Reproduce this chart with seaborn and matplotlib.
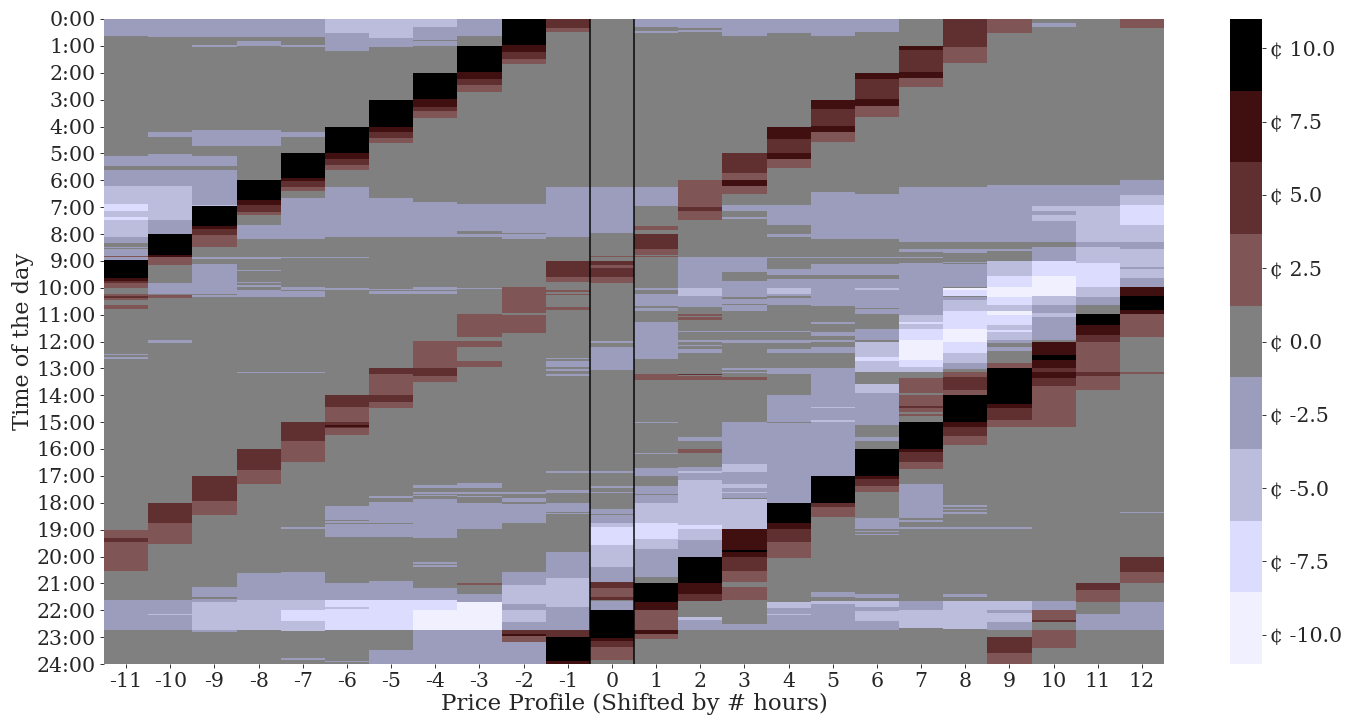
import numpy as np
import pandas as pd
import matplotlib
matplotlib.use("Agg")
import matplotlib.pyplot as plt
from matplotlib.colors import ListedColormap
import seaborn as sns

# price bands, low to high (cents)
band_colors = ["#f0f0ff", "#dcdcff", "#bcbcdc", "#9c9cbc", "#808080",
               "#805555", "#603030", "#401010", "#000000"]
hour_labels = [f"{h}:00" for h in range(25)]
shift_labels = [-11, -10, -9, -8, -7, -6, -5, -4, -3, -2, -1, 0,
                1, 2, 3, 4, 5, 6, 7, 8, 9, 10, 11, 12]
cbar_values = [-10, -7.5, -5, -2.5, 0, 2.5, 5, 7.5, 10]

# each column: (from hour, to hour, price in cents); anything else is 0
col_m11 = [(0,.63,-2.5),(5.09,5.47,-2.5),(5.62,6.22,-2.5),(6.22,6.89,-5),(6.89,7.15,-7.5),(7.15,7.39,-5),(7.39,7.46,-7.5),
           (7.46,8.10,-5),(8.10,8.31,-2.5),(8.49,8.54,-2.5),(8.55,8.81,-2.5),(8.81,8.86,2.5),(8.86,8.98,-2.5),(8.98,9.65,10),
           (9.65,9.74,7.5),(9.74,9.84,5),(9.84,10.01,2.5),(10.25,10.31,2.5),(10.31,10.39,5),(10.39,10.46,2.5),(10.65,10.79,2.5),
           (12.47,12.52,-2.5),(12.57,12.67,-2.5),(19.0,19.3,2.5),(19.3,19.47,5),(19.47,20.54,2.5),(21.62,22.72,-2.5)]
col_m10 = [(0,.69,-2.5),(4.21,4.39,-2.5),(5.04,5.47,-2.5),(5.62,6.22,-2.5),(6.22,7.48,-5),(7.48,7.98,-2.5),(7.98,8.78,10),
           (8.78,8.87,7.5),(8.87,9.16,2.5),(9.84,10.21,-2.5),(10.27,10.36,2.5),(11.95,12.05,-2.5),(18.0,18.75,5),(18.75,19.54,2.5),
           (21.62,22.15,-2.5),(22.15,22.19,-5),(22.19,22.72,-2.5)]
col_m9 = [(0,.69,-2.5),(.97,1.03,-2.5),(4.11,4.73,-2.5),(5.1,5.47,-2.5),(5.62,6.92,-2.5),(6.92,6.96,-5),(6.96,7.7,10),(7.7,7.8,7.5),
          (7.8,8.04,5),(8.04,8.49,2.5),(8.85,8.92,-2.5),(9.13,10.21,-2.5),(10.27,10.33,-2.5),(17.01,17.94,5),(17.94,18.46,2.5),
          (21.12,21.5,-2.5),(21.57,21.69,-2.5),(21.69,22.72,-5),(22.72,22.81,-2.5)]
col_m8 = [(0,.69,-2.5),(.82,1.0,-2.5),(4.11,4.73,-2.5),(5.99,6.74,10),(6.74,6.92,7.5),(6.92,7.17,5),(7.17,7.3,2.5),(7.67,8.2,-2.5),
          (8.85,8.91,-2.5),(9.34,9.38,-2.5),(9.78,9.84,-2.5),(9.9,9.99,-2.5),(10.09,10.21,-2.5),(10.24,10.33,-2.5),(13.13,13.18,-2.5),
          (16.0,16.79,5),(16.79,17.32,2.5),(20.61,21.62,-2.5),(21.62,22.72,-5)]
col_m7 = [(0,.69,-2.5),(.99,1.05,-2.5),(4.21,4.39,-2.5),(5.0,5.9,10),(5.9,6.02,7.5),(6.02,6.24,5),(6.24,6.4,2.5),(6.65,8.2,-2.5),
          (8.85,8.9,-2.5),(9.99,10.06,-2.5),(10.14,10.21,-2.5),(10.24,10.33,-2.5),(13.13,13.18,-2.5),(15.0,15.7,5),(15.7,16.48,2.5),
          (18.92,18.97,-2.5),(20.58,21.62,-2.5),(21.62,22.0,-5),(22.0,22.4,-7.5),(22.4,22.77,-5),(23.76,23.86,-2.5)]
col_m6 = [(0,.51,-5),(.51,1.18,-2.5),(4.0,5.0,10),(5.0,5.22,7.5),(5.22,5.43,5),(5.43,5.62,2.5),(6.27,8.1,-2.5),(8.85,8.9,-2.5),
          (10.01,10.09,-2.5),(14.0,14.43,5),(14.43,15.0,2.5),(15.0,15.1,5),(15.1,15.17,7.5),(15.17,15.2,5),(15.2,15.48,2.5),
          (18.12,18.65,-2.5),(18.69,18.75,-2.5),(18.8,19.27,-2.5),(21.0,21.62,-2.5),(21.62,21.87,-7.5),(21.87,21.97,-5),
          (21.97,22.72,-7.5),(23.88,23.93,-2.5)]
col_m5 = [(0,.71,-5),(.71,1.05,-2.5),(3.0,4.03,10),(4.03,4.22,7.5),(4.22,4.42,5),(4.42,4.6,2.5),(6.65,8.1,-2.5),(10.03,10.07,-2.5),
          (10.12,10.21,-2.5),(13.0,13.22,5),(13.22,14.0,2.5),(14.0,14.24,5),(14.24,14.49,2.5),(17.76,17.81,-2.5),(17.97,18.75,-2.5),
          (18.8,19.27,-2.5),(20.9,21.62,-2.5),(21.62,22.72,-7.5),(23.49,24,-2.5)]
col_m4 = [(0,.29,-5),(.29,.76,-2.5),(.82,1.0,-2.5),(2.0,2.98,10),(2.98,3.26,7.5),(3.26,3.42,5),(3.42,3.67,2.5),(6.8,8.1,-2.5),
          (9.99,10.09,-2.5),(10.12,10.25,-2.5),(11.98,13.0,2.5),(13.0,13.26,5),(13.26,13.5,2.5),(17.35,17.43,-2.5),(17.6,17.66,-2.5),
          (17.72,17.76,-2.5),(17.87,19.31,-2.5),(20.22,20.28,-2.5),(20.32,20.38,-2.5),(21.19,21.62,-2.5),(21.62,22.0,-7.5),
          (22.0,22.72,-10),(22.72,24,-2.5)]
col_m3 = [(0,.63,-2.5),(1.0,1.99,10),(1.99,2.23,7.5),(2.23,2.47,5),(2.47,2.72,2.5),(6.89,7.89,-2.5),(7.98,8.1,-2.5),(10.01,10.05,-2.5),
          (10.98,11.85,2.5),(11.98,12.2,2.5),(12.74,12.8,2.5),(12.82,12.94,2.5),(17.29,17.43,-2.5),(17.6,17.66,-2.5),(17.76,17.8,-2.5),
          (18.0,18.98,-2.5),(21.0,21.07,2.5),(21.4,21.68,-2.5),(21.68,22.72,-10),(22.72,24,-2.5)]
col_m2 = [(0,.97,10),(.97,1.22,7.5),(1.22,1.5,5),(1.5,1.69,2.5),(6.89,7.95,-2.5),(7.98,8.2,-2.5),(9.99,10.93,2.5),(11.02,11.68,2.5),
          (17.6,17.66,-2.5),(17.84,17.97,-2.5),(18.03,18.75,-2.5),(20.58,21.07,-2.5),(21.07,21.75,-5),(21.75,22.0,-2.5),(22.0,22.43,-5),
          (22.43,22.72,-2.5),(22.72,22.89,5),(22.89,22.97,7.5),(22.97,23.19,2.5),(23.19,24,-2.5)]
col_m1 = [(0,.35,5),(.35,.48,2.5),(6.27,8.1,-2.5),(9.0,9.6,5),(9.6,9.79,2.5),(10.09,10.15,2.5),(10.22,10.28,2.5),(10.74,10.83,2.5),
          (12.6,12.65,-2.5),(12.73,12.94,-2.5),(13.04,13.1,-2.5),(13.22,13.29,-2.5),(16.84,16.9,-2.5),(17.53,17.63,-2.5),(18.0,18.34,-2.5),
          (18.39,18.43,-2.5),(19.84,20.78,-2.5),(20.78,21.87,-5),(21.87,22.72,-2.5),(22.72,23.0,5),(23.0,23.9,10),(23.9,24,7.5)]
col_0 = [(6.27,7.95,-2.5),(8.81,8.86,2.5),(9.0,9.16,5),(9.16,9.28,2.5),(9.28,9.59,5),(9.59,9.84,2.5),(11.98,12.05,-2.5),(12.2,13.07,-2.5),
         (16.81,16.88,-2.5),(17.38,17.47,-2.5),(17.6,17.64,-2.5),(18.25,18.43,-2.5),(18.46,18.75,-2.5),(18.75,18.92,-5),(18.92,19.58,-7.5),
         (19.58,20.38,-5),(20.38,20.94,-2.5),(20.94,21.19,5),(21.19,21.5,2.5),(21.5,21.6,5),(21.65,22.0,-2.5),(22.0,23.02,10),(23.02,23.14,7.5),
         (23.14,23.36,5),(23.36,23.83,2.5)]
col_p1 = [(0,.29,-2.5),(.43,.53,-2.5),(6.27,6.96,-2.5),(7.7,7.83,2.5),(8.0,8.56,5),(8.56,8.76,2.5),(8.81,8.85,2.5),(10.01,10.09,-2.5),
          (10.21,10.68,-2.5),(10.77,10.89,-2.5),(11.27,12.67,-2.5),(13.22,13.43,2.5),(15.0,15.03,-2.5),(16.14,16.19,-2.5),(16.71,17.01,-2.5),
          (17.36,17.68,-2.5),(17.72,18.0,-2.5),(18.0,18.75,-5),(18.75,19.33,-7.5),(19.33,19.73,-5),(19.73,20.76,-2.5),(21.0,21.69,10),
          (21.69,22.0,7.5),(22.0,22.72,2.5),(22.72,22.87,7.5),(22.87,23.07,2.5)]
col_p2 = [(0,.31,-2.5),(.41,.47,-2.5),(5.99,6.99,2.5),(6.99,7.15,5),(7.15,7.48,2.5),(8.87,10.0,-2.5),(10.0,10.31,-5),(10.31,10.74,-2.5),
          (10.98,11.04,2.5),(11.1,11.18,2.5),(11.6,11.64,-2.5),(11.95,12.0,-2.5),(12.13,12.19,-2.5),(12.28,12.42,-2.5),(13.2,13.25,5),
          (13.29,13.43,2.5),(15.57,15.71,-2.5),(15.98,16.13,2.5),(16.66,16.81,-2.5),(16.81,16.9,-5),(16.9,17.16,-2.5),(17.16,18.83,-5),
          (18.83,18.99,-7.5),(18.99,19.39,-5),(19.39,20.01,-2.5),(20.01,21.0,10),(21.0,21.4,7.5),(21.4,21.65,5),(22.27,22.37,-5),(22.37,22.72,-2.5)]
col_p3 = [(0,.63,-2.5),(5.0,5.74,5),(5.74,5.99,2.5),(5.99,6.2,7.5),(6.2,6.51,2.5),(6.92,7.15,-2.5),(7.38,7.44,-2.5),(8.85,9.4,-2.5),
          (9.74,10.34,-2.5),(10.4,10.61,-2.5),(10.65,10.87,-2.5),(11.6,11.63,-2.5),(11.95,12.05,-2.5),(13.0,13.06,-2.5),(13.13,13.19,-2.5),
          (13.31,13.43,2.5),(15.0,16.56,-2.5),(16.56,16.85,-5),(16.85,17.31,-2.5),(17.31,17.43,-5),(17.43,17.6,-2.5),(17.6,17.65,-5),
          (17.65,17.81,-2.5),(17.85,18.03,-5),(18.03,18.96,-5),(18.99,19.76,7.5),(19.76,19.82,10),(19.82,20.01,7.5),(20.01,20.55,5),
          (20.55,20.97,2.5),(21.15,21.62,2.5),(22.5,22.72,-2.5)]
col_p4 = [(0,.53,-2.5),(4.0,4.48,7.5),(4.48,4.98,5),(4.98,5.21,7.5),(5.21,5.53,2.5),(6.92,7.67,-2.5),(8.0,8.1,-2.5),(8.85,8.89,-2.5),
          (9.32,9.53,-2.5),(9.69,10.02,-2.5),(10.02,10.21,-5),(10.21,10.31,-2.5),(10.37,10.65,-2.5),(11.6,11.64,-2.5),(11.95,12.05,-2.5),
          (12.28,12.42,-2.5),(13.0,13.22,-2.5),(13.99,15.0,-2.5),(15.03,18.0,-2.5),(18.0,18.77,10),(18.77,18.99,7.5),(18.99,19.46,5),
          (19.46,20.05,2.5),(21.69,21.94,-5),(21.94,22.15,-2.5),(22.15,22.19,-5),(22.19,22.72,-2.5)]
col_p5 = [(0,.63,-2.5),(3.0,3.33,7.5),(3.33,3.98,5),(3.98,4.22,7.5),(4.22,4.57,2.5),(6.44,8.2,-2.5),(8.85,8.89,-2.5),(9.13,9.53,-2.5),
          (9.69,10.68,-2.5),(11.29,11.35,-2.5),(11.64,11.8,-2.5),(11.95,12.0,-2.5),(12.22,12.44,-2.5),(13.0,13.19,-2.5),(13.19,14.43,-2.5),
          (14.43,14.47,-5),(14.47,14.93,-2.5),(14.93,15.0,-5),(15.0,17.01,-2.5),(17.01,18.0,10),(18.0,18.15,5),(18.15,18.52,2.5),(21.33,21.5,-2.5),
          (21.65,21.75,-5),(21.75,22.72,-2.5)]
col_p6 = [(0,.47,-2.5),(2.0,2.23,7.5),(2.23,2.97,5),(2.97,3.24,7.5),(3.24,3.64,2.5),(6.51,8.2,-2.5),(8.85,8.89,-2.5),(9.13,9.53,-2.5),
          (9.69,10.02,-2.5),(10.02,10.09,-5),(10.09,10.77,-2.5),(10.8,10.98,-2.5),(11.54,11.95,-2.5),(12.0,12.57,-5),(12.57,12.72,-7.5),
          (12.72,13.15,-5),(13.59,13.93,-5),(13.93,15.11,-2.5),(15.57,15.71,-2.5),(16.0,17.01,10),(17.01,17.14,7.5),(17.14,17.36,5),
          (17.36,17.62,2.5),(18.56,18.98,-2.5),(19.05,19.09,-2.5),(19.17,19.21,-2.5),(21.4,21.53,-2.5),(21.65,21.87,-5),(21.87,22.02,-2.5),
          (22.02,22.4,-5),(22.4,22.72,-2.5)]
col_p7 = [(1.0,1.15,7.5),(1.15,1.99,5),(1.99,2.18,7.5),(2.18,2.54,2.5),(6.27,8.29,-2.5),(8.57,8.62,-2.5),(8.64,8.68,-2.5),(8.85,8.9,-2.5),
          (9.06,11.02,-2.5),(11.02,11.26,-5),(11.26,11.33,-7.5),(11.33,11.54,-5),(11.54,11.95,-7.5),(11.95,12.69,-10),(12.69,12.97,-7.5),
          (12.97,13.15,-5),(13.37,13.91,2.5),(14.0,14.41,2.5),(14.41,14.47,5),(14.47,14.62,2.5),(14.68,14.78,2.5),(15.0,16.0,10),
          (16.0,16.1,7.5),(16.1,16.48,5),(16.48,16.73,2.5),(17.31,18.59,-2.5),(18.65,18.73,-2.5),(18.92,18.97,-2.5),(21.65,22.0,-2.5),(22.0,22.65,-5)]
col_p8 = [(0,1.03,5),(1.03,1.63,2.5),(6.27,8.29,-2.5),(8.56,8.7,-2.5),(9.03,9.08,-2.5),(9.13,9.96,-2.5),(10.0,10.06,-10),(10.06,10.31,-7.5),
          (10.34,10.46,-2.5),(10.46,10.89,-5),(10.89,11.54,-7.5),(11.54,12.03,-10),(12.03,12.44,-7.5),(12.44,12.81,-5),(12.81,13.04,-2.5),
          (13.15,13.31,2.5),(13.31,13.81,5),(13.81,14.0,2.5),(14.0,15.0,10),(15.0,15.16,7.5),(15.16,15.52,5),(15.52,15.85,2.5),
          (18.09,18.15,-2.5),(18.21,18.28,-2.5),(18.34,18.43,-2.5),(18.92,18.97,-2.5),(21.4,21.5,-2.5),(21.65,22.68,-5)]
col_p9 = [(0,.51,2.5),(6.18,8.29,-2.5),(8.57,8.62,-2.5),(9.0,9.55,-5),(9.55,9.99,-7.5),(9.99,10.34,-10),(10.34,10.65,-7.5),(10.65,10.89,-5),
          (10.89,11.02,-10),(11.02,11.39,-7.5),(11.39,11.58,-5),(11.58,11.64,-7.5),(11.64,11.95,-5),(11.95,12.07,-2.5),(12.2,12.35,-2.5),
          (12.81,12.98,2.5),(12.98,14.31,10),(14.31,14.49,7.5),(14.49,14.93,5),(14.93,15.18,2.5),(18.92,18.97,-2.5),(21.65,21.98,-5),
          (21.98,22.12,-2.5),(22.12,22.43,-5),(22.43,22.72,-2.5),(23.0,23.58,5),(23.58,24,2.5)]
col_p10 = [(.16,.29,-2.5),(6.18,6.96,-2.5),(6.96,7.15,-5),(7.15,7.3,-2.5),(7.3,7.51,-5),(7.51,8.29,-2.5),(8.5,9.0,-2.5),(9.0,9.55,-7.5),
           (9.55,10.31,-10),(10.31,10.65,-5),(10.65,10.93,-2.5),(10.93,11.1,-5),(11.1,11.95,-2.5),(12.0,12.5,7.5),(12.5,12.69,10),(12.69,12.98,7.5),
           (12.98,13.15,5),(13.15,13.37,7.5),(13.37,13.66,5),(13.66,15.18,2.5),(21.65,22.0,-2.5),(22.0,22.35,2.5),(22.35,22.43,5),(22.72,23.4,2.5)]
col_p11 = [(6.18,6.96,-2.5),(6.96,8.29,-5),(8.29,8.5,-2.5),(8.5,9.09,-5),(9.09,9.96,-7.5),(9.96,10.33,-5),(10.33,10.65,-2.5),(10.98,11.39,10),
           (11.39,11.76,7.5),(11.76,12.0,5),(12.0,13.15,2.5),(13.15,13.27,5),(13.27,13.81,2.5),(21.0,21.25,5),(21.25,21.69,2.5),(22.15,22.72,-2.5)]
col_p12 = [(0,.31,2.5),(5.99,6.55,-2.5),(6.55,6.92,-5),(6.92,7.67,-7.5),(7.67,8.29,-5),(8.29,8.56,-2.5),(8.56,9.22,-5),(9.22,9.32,-2.5),
           (9.32,9.65,-5),(9.65,9.99,-2.5),(9.99,10.31,7.5),(10.31,10.83,10),(10.83,10.98,7.5),(10.98,11.85,2.5),(13.15,13.2,2.5),(18.33,18.39,-2.5),
           (20.01,20.57,5),(20.57,21.0,2.5),(21.69,22.72,-2.5)]

columns = [col_m11, col_m10, col_m9, col_m8, col_m7, col_m6, col_m5, col_m4, col_m3, col_m2, col_m1, col_0,
           col_p1, col_p2, col_p3, col_p4, col_p5, col_p6, col_p7, col_p8, col_p9, col_p10, col_p11, col_p12]

# one row per minute of the day
minutes = 1440
grid = np.zeros((minutes, len(columns)))
for j, segs in enumerate(columns):
    for start, end, cents in segs:
        grid[int(round(start * 60)):int(round(end * 60)), j] = cents
frame = pd.DataFrame(grid, columns=shift_labels)

sns.set_theme(style="white")
plt.rcParams["font.family"] = ["DejaVu Serif"]

W, H = 1356, 719
fig = plt.figure(figsize=(W / 100, H / 100), dpi=100)
ax = fig.add_axes([104 / W, 1 - 664 / H, 1060 / W, 645 / H])
cax = fig.add_axes([1230 / W, 1 - 664 / H, 32 / W, 645 / H])

sns.heatmap(frame, ax=ax, cbar_ax=cax, cmap=ListedColormap(band_colors), vmin=-11, vmax=11,
            xticklabels=True, yticklabels=False, cbar_kws={"ticks": cbar_values})

ax.set_yticks(np.arange(0, minutes + 1, 60))
ax.set_yticklabels(hour_labels, rotation=0, fontsize=14.8)
ax.set_xticklabels(shift_labels, rotation=0, fontsize=14.8)
ax.tick_params(axis="both", length=3, width=0.7, color="#333333", bottom=True, left=True, pad=3)
ax.set_xlabel("Price Profile (Shifted by # hours)", fontsize=16.5, labelpad=1)
ax.set_ylabel("Time of the day", fontsize=16.2, labelpad=2)

ax.axvline(11, color="black", lw=1.3, alpha=0.8)
ax.axvline(12, color="black", lw=1.3, alpha=0.8)

cb = ax.collections[0].colorbar
cb.set_ticklabels([f"¢ {v:.1f}" for v in cbar_values])
cb.ax.tick_params(labelsize=14.8, length=3, width=0.7, color="#333333", right=True, pad=3)
cb.outline.set_visible(False)

fig.savefig("out.png", dpi=100, facecolor="white")
